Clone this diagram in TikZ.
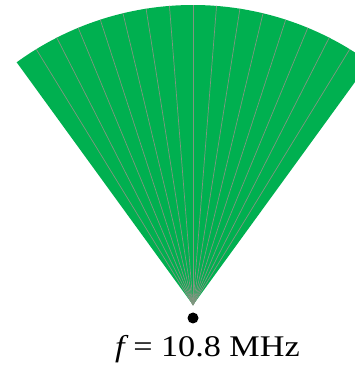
\documentclass[tikz,border=0pt]{standalone}
\usepackage{fontspec}
\setmainfont{Liberation Serif}
\definecolor{fangreen}{RGB}{0,176,80}
\definecolor{fangray}{RGB}{128,150,128}
\begin{document}
\begin{tikzpicture}[x=1pt,y=1pt,
  wedgeline/.style={draw=fangray, line width=0.7pt},
  apexdot/.style={circle, fill=black, inner sep=0pt, minimum size=11pt}]
\useasboundingbox (0,0) rectangle (354,370);
\coordinate (apex) at (193,65);
\fill[fangreen] (apex) -- ++(54:300) arc[start angle=54, end angle=126, radius=300] -- cycle;
\foreach \k in {1,...,15} {
  \draw[wedgeline] (apex) -- ++({54+4.5*\k}:300);
}
\node[apexdot] (dot) at (193,52) {};
\node[anchor=base, xscale=1.14, transform shape, font=\fontsize{30}{36}\selectfont] (lbl) at (207.5,13) {{\itshape f} = 10.8 MHz};
\end{tikzpicture}
\end{document}
